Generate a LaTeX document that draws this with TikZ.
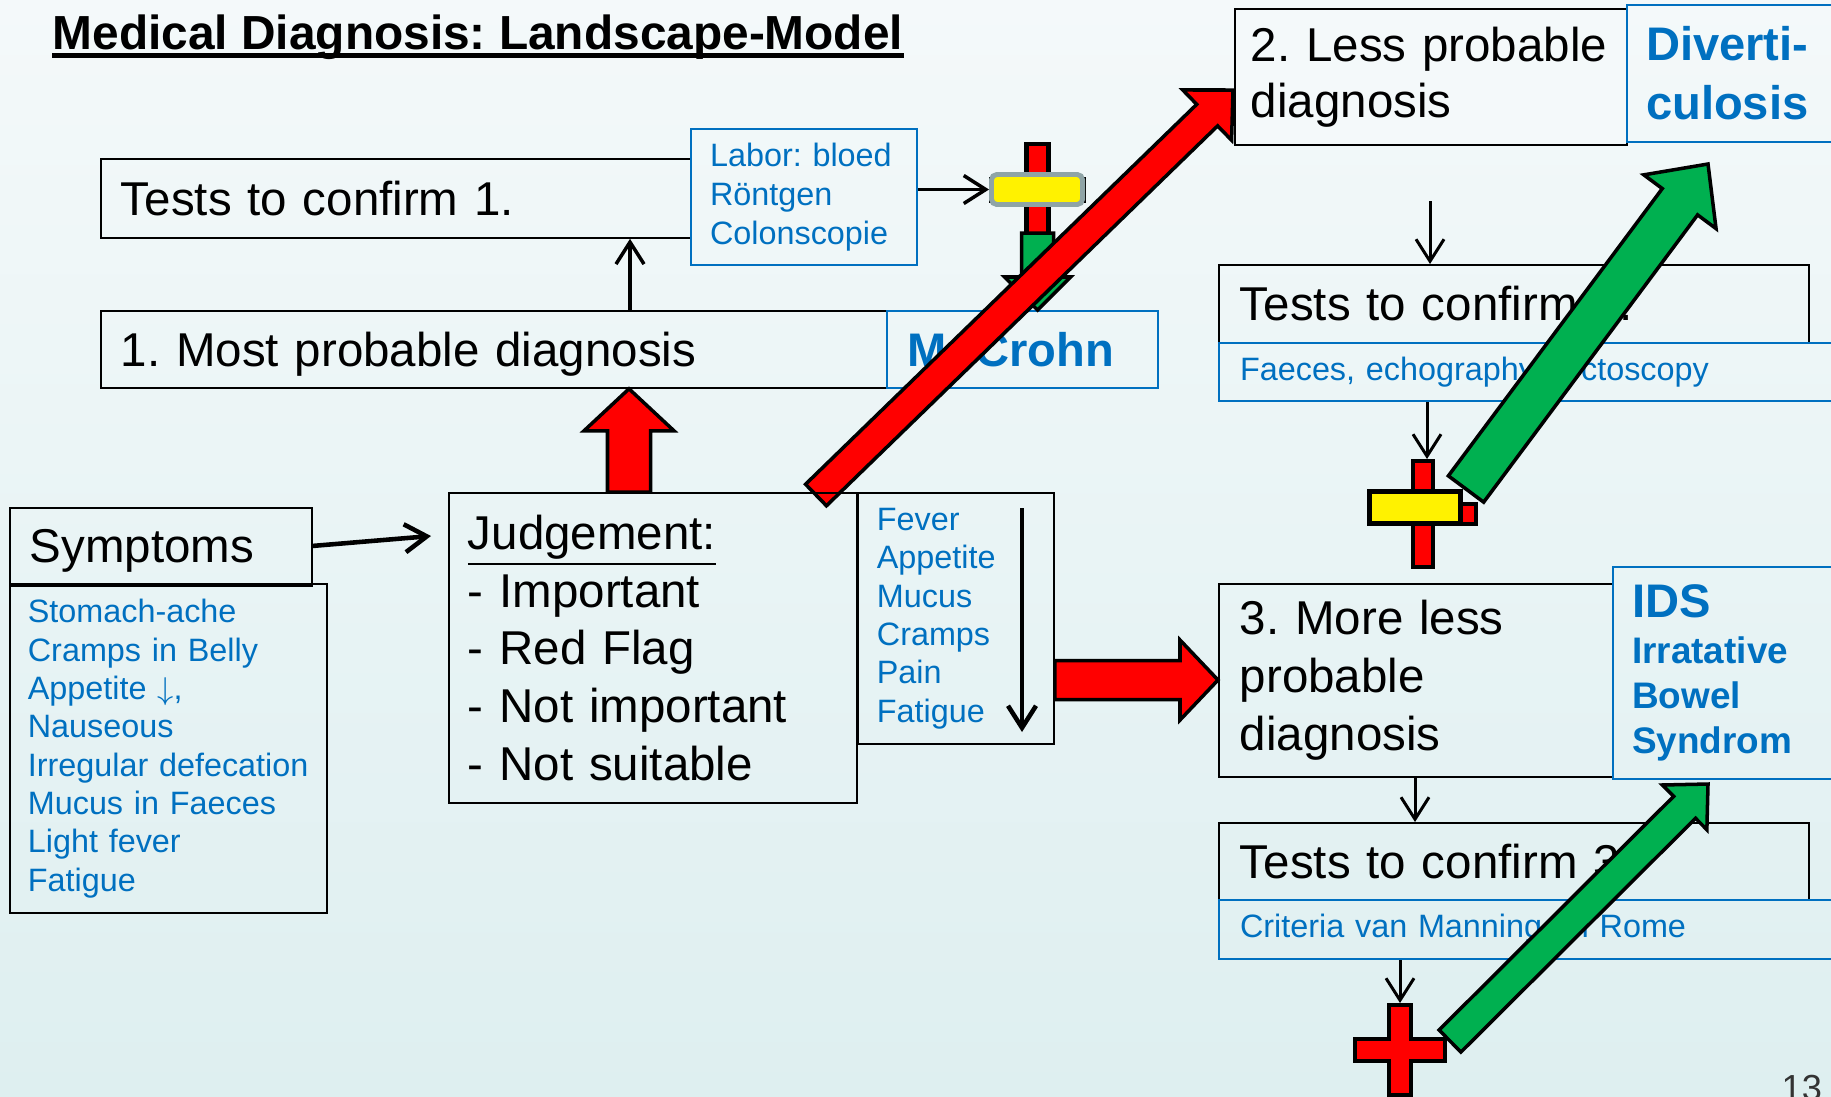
\documentclass[tikz,border=0pt]{standalone}
\usepackage{fontspec}
\setmainfont{Liberation Sans}
\usetikzlibrary{calc,arrows.meta}
\frenchspacing
\hyphenpenalty=10000

\definecolor{diagblue}{RGB}{0,112,192}
\definecolor{diaggreen}{RGB}{0,176,80}
\definecolor{bgtop}{RGB}{244,249,250}
\definecolor{bgbottom}{RGB}{222,239,240}
\definecolor{bargray}{RGB}{143,164,166}

\newcommand{\mainsize}{\fontsize{13.5pt}{16.4pt}\selectfont}
\newcommand{\bluesize}{\fontsize{9.2pt}{10.9pt}\selectfont}
\newcommand{\namesize}{\fontsize{13.4pt}{16.8pt}\selectfont\bfseries}

% tail, tip, shaft half width, head half width, head length, colour
\newcommand{\blockarrow}[6]{%
  \coordinate (ba) at ($(#2)!#5!(#1)$);
  \filldraw[blockline, fill=#6] ($(#1)!#3!90:(#2)$) -- ($(ba)!#3!90:(#2)$)
    -- ($(ba)!#4!90:(#2)$) -- (#2) -- ($(ba)!#4!-90:(#2)$)
    -- ($(ba)!#3!-90:(#2)$) -- ($(#1)!#3!-90:(#2)$) -- cycle;
}

\tikzset{
  diagbox/.style={draw=black, line width=0.5pt, anchor=north west, align=left,
    inner xsep=0.2cm, inner ysep=0pt, font=\mainsize},
  bluebox/.style={diagbox, draw=diagblue, line width=0.6pt, text=diagblue, font=\bluesize},
  listbox/.style={diagbox, text=diagblue, font=\bluesize},
  linkarrow/.style={-{Straight Barb[length=2.2mm,width=2.8mm]}, line width=#1},
  linkarrow/.default=0.85pt,
  blockline/.style={draw=black, line width=1pt, line join=miter},
  crossline/.style={draw=black, fill=red, line width=1.4pt, line join=miter},
  yellowbar/.style={draw=#1, fill=yellow, line width=1.4pt, minimum width=0.91cm, inner sep=0pt},
  pics/redplus/.style 2 args={code={
    \filldraw[crossline] (-#2,-#1) -- (#2,-#1) -- (#2,-#2) -- (#1,-#2) -- (#1,#2) -- (#2,#2)
      -- (#2,#1) -- (-#2,#1) -- (-#2,#2) -- (-#1,#2) -- (-#1,-#2) -- (-#2,-#2) -- cycle;
  }},
}

\begin{document}
\begin{tikzpicture}[x=0.01cm, y=-0.01cm]
\useasboundingbox (0,0) rectangle (1831,1096);
\shade[top color=bgtop, bottom color=bgbottom] (0,0) rectangle (1831,1096);

% title
\node[anchor=base west, inner sep=0pt, font=\fontsize{13.6pt}{16pt}\selectfont\bfseries] (title) at (52,49) {Medical Diagnosis: Landscape-Model};
\draw[line width=1.4pt] ([yshift=-1.9pt]title.base west) -- ([yshift=-1.9pt]title.base east);

% first diagnosis
\node[diagbox, text width=5.50cm, minimum height=0.79cm] (tests1) at (100,158) {Tests to confirm 1.};
\node[bluebox, inner xsep=0.19cm, text width=1.88cm, minimum height=1.36cm, font=\fontsize{9.2pt}{11.1pt}\selectfont] (labor) at (690,128) {Labor: bloed\\Röntgen\\Colonscopie};
\node[diagbox, text width=7.46cm, minimum height=0.77cm, text depth=0pt] (mostprob) at (100,310) {1. Most probable diagnosis};
\node[bluebox, text width=2.31cm, minimum height=0.77cm, font=\namesize] (crohn) at (886,310) {M. Crohn};

\coordinate (upx) at (630,0);
\draw[linkarrow=1pt] (mostprob.north -| upx) -- (tests1.south -| upx);

% cross after tests 1
\pic (topplus) at (1037.5,190) {redplus={46}{11}};
\node[yellowbar=bargray, rounded corners=1.5pt, minimum height=0.30cm] (topbar) at (1037,189.5) {};
\draw[linkarrow=1pt] (labor.east |- topbar.west) -- (topbar.west);

\coordinate (gdtail) at (1037.5,233);
\coordinate (gdtip) at (gdtail |- crohn.north);
\blockarrow{gdtail}{gdtip}{0.16cm}{0.33cm}{0.33cm}{diaggreen}

% symptoms
\node[diagbox, text width=2.62cm, minimum height=0.76cm, text depth=0pt] (symhead) at (9,507) {Symptoms};
\node[listbox, inner xsep=0.18cm, text width=2.81cm, minimum height=3.29cm] (symlist) at (9,583) {Stomach-ache\\Cramps in Belly\\Appetite $\downarrow$,\\Nauseous\\Irregular defecation\\Mucus in Faeces\\Light fever\\Fatigue};
\draw[line width=1.3pt] (symhead.south west) -- (symhead.south east);
\coordinate (judgein) at (431,536);
\draw[linkarrow=1.3pt] (symhead.east) -- (judgein);

% judgement
\coordinate (upredtail) at (629,492);
\coordinate (upredtip) at (upredtail |- mostprob.south);
\blockarrow{upredtail}{upredtip}{0.215cm}{0.45cm}{0.42cm}{red}
\coordinate (redtail) at (816,495);
\coordinate (redtip) at (1233,90);
\blockarrow{redtail}{redtip}{0.15cm}{0.35cm}{0.36cm}{red}

\node[diagbox, inner xsep=0.19cm, text width=3.70cm, minimum height=3.10cm, font=\fontsize{13.5pt}{16.45pt}\selectfont] (judge) at (448,492) {\underline{Judgement:}\\- Important\\- Red Flag\\- Not important\\- Not suitable};
\node[listbox, inner xsep=0.19cm, text width=1.58cm, minimum height=2.51cm, font=\fontsize{9.2pt}{10.9pt}\selectfont] (fever) at (857,492) {Fever\\Appetite\\Mucus\\Cramps\\Pain\\Fatigue};
\coordinate (feverdown) at (1022,508);
\coordinate (feverend) at (1022,732);
\draw[linkarrow=1.3pt] (feverdown) -- (feverend);

% second diagnosis
\node[diagbox, fill=bgtop, inner xsep=0.16cm, text width=3.60cm, minimum height=1.36cm, font=\fontsize{13.5pt}{15.9pt}\selectfont] (lessprob) at (1234,8) {2. Less probable\\diagnosis};
\node[bluebox, inner xsep=0.19cm, text width=2.02cm, minimum height=1.37cm, font=\namesize] (diverti) at (1626,4) {Diverti-\\culosis};

\node[diagbox, inner xsep=0.21cm, text width=5.48cm, minimum height=0.78cm] (tests2) at (1218,264) {Tests to confirm 2.};
\node[bluebox, inner xsep=0.21cm, text width=5.98cm, minimum height=0.58cm] (faeces) at (1218,342) {Faeces, echography, rectoscopy};
\coordinate (d2top) at (1430,201);
\draw[linkarrow] (d2top) -- (d2top |- tests2.north);
\coordinate (midtop) at (1427,459);
\draw[linkarrow] (faeces.south -| midtop) -- (midtop);

\pic (midplus) at (1423,514) {redplus={53}{10}};
\node[yellowbar=black, minimum height=0.32cm] (midbar) at (1415,507.5) {};
\coordinate (g1tail) at (1466,489);
\coordinate (g1tip) at (1708,164);
\blockarrow{g1tail}{g1tip}{0.22cm}{0.45cm}{0.47cm}{diaggreen}

% third diagnosis
\node[diagbox, inner xsep=0.21cm, text width=3.52cm, minimum height=1.93cm, font=\fontsize{13.5pt}{16.5pt}\selectfont] (moreless) at (1218,583) {3. More less\\probable\\diagnosis};
\node[bluebox, inner xsep=0.19cm, text width=2.02cm, minimum height=2.12cm, font=\fontsize{10.5pt}{12.9pt}\selectfont\bfseries] (ids) at (1612,566) {{\fontsize{13.4pt}{12.9pt}\selectfont IDS}\\Irratative\\Bowel\\Syndrom};

\coordinate (righttail) at (fever.east |- 0,680);
\coordinate (righttip) at (moreless.west |- righttail);
\blockarrow{righttail}{righttip}{0.195cm}{0.40cm}{0.38cm}{red}

\node[diagbox, inner xsep=0.21cm, text width=5.48cm, minimum height=0.77cm] (tests3) at (1218,822) {Tests to confirm 3.};
\node[bluebox, inner xsep=0.21cm, text width=5.98cm, minimum height=0.59cm] (criteria) at (1218,899) {Criteria van Manning en Rome};
\coordinate (d3x) at (1415,0);
\draw[linkarrow] (moreless.south -| d3x) -- (tests3.north -| d3x);
\coordinate (bottop) at (1400,1003);
\draw[linkarrow] (criteria.south -| bottop) -- (bottop);

\pic (botplus) at (1400,1050) {redplus={45}{11}};
\coordinate (g3tail) at (1450,1041);
\coordinate (g3tip) at (1708,784);
\blockarrow{g3tail}{g3tip}{0.155cm}{0.315cm}{0.33cm}{diaggreen}

% page number
\node[anchor=base west, inner sep=0pt, text=black!80, font=\fontsize{10.3pt}{12pt}\selectfont] (pagenum) at (1781,1100) {13};
\end{tikzpicture}
\end{document}
